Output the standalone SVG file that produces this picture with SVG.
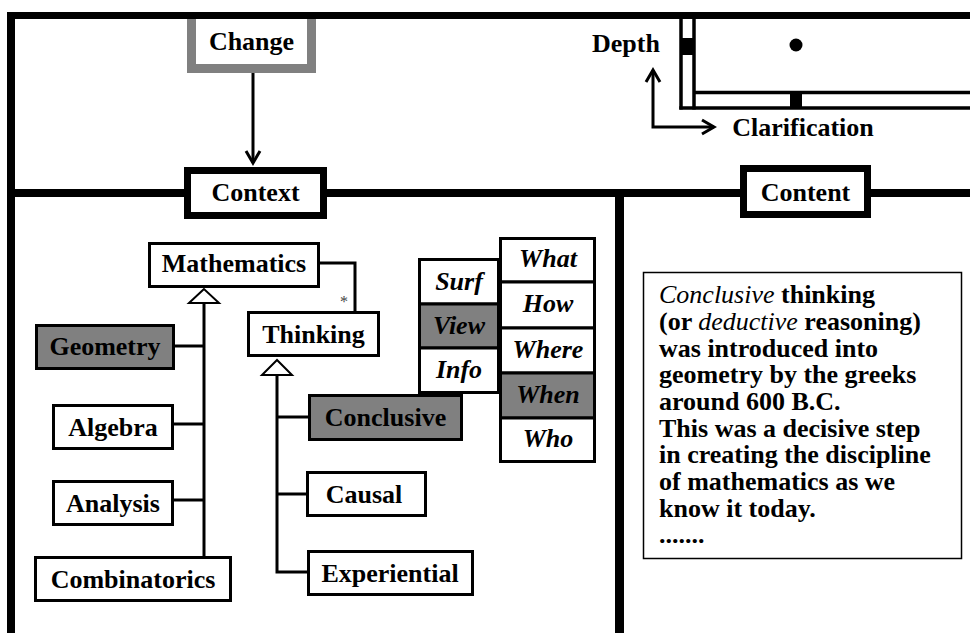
<svg xmlns="http://www.w3.org/2000/svg" width="970" height="633" viewBox="0 0 970 633">
  <defs>
    <style>
      text { font-family: "Liberation Serif", "Times New Roman", Times, "DejaVu Serif", serif; }
      .lbl { font-size: 26px; font-weight: bold; fill: #000; text-anchor: middle; }
      .it { font-style: italic; }
      .box { fill: #fff; stroke: #000; stroke-width: 3; }
      .gbox { fill: #808080; stroke: #000; stroke-width: 3; }
      .frame { stroke: #000; fill: none; }
      .wire { stroke: #000; stroke-width: 3; fill: none; }
      .tri { fill: #fff; stroke: #000; stroke-width: 2; }
      .note { font-size: 26px; font-weight: bold; fill: #000; }
      .em { font-style: italic; font-weight: normal; }
    </style>
  </defs>
  <rect width="970" height="633" fill="#fff"/>

  <!-- Change node: grey frame hanging from the top rule -->
  <g id="change">
    <path d="M191.5,14 V68.5 H311.5 V14" fill="#fff" stroke="#808080" stroke-width="9"/>
    <text class="lbl" x="251.5" y="50" font-family="Liberation Serif, serif">Change</text>
  </g>

  <!-- Frame rules -->
  <g id="frame" class="frame">
    <line x1="7" y1="15.5" x2="970" y2="15.5" stroke-width="7"/>
    <line x1="11" y1="12" x2="11" y2="633" stroke-width="8"/>
    <line x1="7" y1="193" x2="970" y2="193" stroke-width="8"/>
    <line x1="619.5" y1="193" x2="619.5" y2="633" stroke-width="9"/>
  </g>

  <!-- Depth / clarification scroll frame -->
  <g id="scroller">
    <line x1="681" y1="19" x2="681" y2="109.5" stroke="#000" stroke-width="3.5"/>
    <line x1="694" y1="19" x2="694" y2="109.5" stroke="#000" stroke-width="3.5"/>
    <rect x="681" y="38" width="13" height="17" fill="#000"/>
    <line x1="694" y1="92.5" x2="970" y2="92.5" stroke="#000" stroke-width="3.5"/>
    <line x1="679.3" y1="108" x2="970" y2="108" stroke="#000" stroke-width="3.5"/>
    <rect x="790" y="92.5" width="12" height="15.5" fill="#000"/>
    <circle cx="796" cy="45" r="6.5" fill="#000"/>
  </g>
  <g id="depth">
    <text class="lbl" x="626" y="52">Depth</text>
  </g>
  <g id="clarification">
    <text class="lbl" x="803" y="136">Clarification</text>
  </g>

  <!-- Context and Content headers -->
  <g id="context">
    <rect x="187.5" y="170.5" width="136" height="45" fill="#fff" stroke="#000" stroke-width="7"/>
    <text class="lbl" x="255.5" y="201">Context</text>
  </g>
  <g id="content">
    <rect x="743.5" y="168.5" width="124" height="46" fill="#fff" stroke="#000" stroke-width="7"/>
    <text class="lbl" x="805.5" y="201">Content</text>
  </g>

  <!-- Connectors -->
  <g id="connectors">
    <!-- Change to Context -->
    <line class="wire" x1="253" y1="73" x2="253" y2="163"/>
    <polyline class="wire" points="246,151 253,163 260,151"/>
    <!-- Depth / Clarification axes -->
    <polyline class="wire" points="653,70 653,127 714,127"/>
    <polyline class="wire" points="646,82 653,70 660,82"/>
    <polyline class="wire" points="702,120 714,127 702,134"/>
    <!-- Mathematics association to Thinking -->
    <polyline class="wire" points="320,263 355,263 355,311" stroke-width="2"/>
    <text x="344" y="307" font-size="16" fill="#444" text-anchor="middle">*</text>
    <!-- Mathematics generalisation tree -->
    <line class="wire" x1="204" y1="303" x2="204" y2="556" stroke-width="2.5"/>
    <polygon class="tri" points="204,289 189,303 219,303"/>
    <line class="wire" x1="175" y1="346" x2="204" y2="346" stroke-width="2.5"/>
    <line class="wire" x1="174" y1="424" x2="204" y2="424" stroke-width="2.5"/>
    <line class="wire" x1="174" y1="500" x2="204" y2="500" stroke-width="2.5"/>
    <!-- Thinking generalisation tree -->
    <polyline class="wire" points="277,375 277,572 307,572" stroke-width="2.5"/>
    <polygon class="tri" points="277,360 262,375 292,375"/>
    <line class="wire" x1="277" y1="417" x2="308" y2="417" stroke-width="2.5"/>
    <line class="wire" x1="277" y1="494" x2="306" y2="494" stroke-width="2.5"/>
  </g>

  <!-- Mathematics hierarchy -->
  <g id="mathematics">
    <rect class="box" x="149.5" y="243.5" width="169" height="43"/>
    <text class="lbl" x="234" y="272">Mathematics</text>
  </g>
  <g id="geometry">
    <rect class="gbox" x="36.5" y="325.5" width="137" height="43"/>
    <text class="lbl" x="105" y="355">Geometry</text>
  </g>
  <g id="algebra">
    <rect class="box" x="53.5" y="405.5" width="119" height="43"/>
    <text class="lbl" x="113" y="436">Algebra</text>
  </g>
  <g id="analysis">
    <rect class="box" x="53.5" y="481.5" width="119" height="43"/>
    <text class="lbl" x="113" y="512">Analysis</text>
  </g>
  <g id="combinatorics">
    <rect class="box" x="35.5" y="557.5" width="195" height="43"/>
    <text class="lbl" x="133" y="588">Combinatorics</text>
  </g>

  <!-- Thinking hierarchy -->
  <g id="thinking">
    <rect class="box" x="248.5" y="312.5" width="130" height="43"/>
    <text class="lbl" x="313.5" y="343">Thinking</text>
  </g>
  <g id="conclusive">
    <rect class="gbox" x="309.5" y="395.5" width="152" height="44"/>
    <text class="lbl" x="385.5" y="426">Conclusive</text>
  </g>
  <g id="causal">
    <rect class="box" x="307.5" y="472.5" width="118" height="43"/>
    <text class="lbl" x="364" y="503">Causal</text>
  </g>
  <g id="experiential">
    <rect class="box" x="308.5" y="551.5" width="164" height="43"/>
    <text class="lbl" x="390" y="582">Experiential</text>
  </g>

  <!-- Surf / View / Info column -->
  <g id="surf">
    <rect class="box" x="419.5" y="259.5" width="79" height="44.5"/>
    <text class="lbl it" x="459" y="290">Surf</text>
  </g>
  <g id="view">
    <rect class="gbox" x="419.5" y="304" width="79" height="44"/>
    <text class="lbl it" x="459" y="334">View</text>
  </g>
  <g id="info">
    <rect class="box" x="419.5" y="348" width="79" height="44.5"/>
    <text class="lbl it" x="459" y="378">Info</text>
  </g>

  <!-- What / How / Where / When / Who column -->
  <g id="what">
    <rect class="box" x="500.5" y="238.5" width="94" height="43.5"/>
    <text class="lbl it" x="548" y="267">What</text>
  </g>
  <g id="how">
    <rect class="box" x="500.5" y="282" width="94" height="46"/>
    <text class="lbl it" x="548" y="312">How</text>
  </g>
  <g id="where">
    <rect class="box" x="500.5" y="328" width="94" height="45"/>
    <text class="lbl it" x="548" y="358">Where</text>
  </g>
  <g id="when">
    <rect class="gbox" x="500.5" y="373" width="94" height="45"/>
    <text class="lbl it" x="548" y="403">When</text>
  </g>
  <g id="who">
    <rect class="box" x="500.5" y="418" width="94" height="43.5"/>
    <text class="lbl it" x="548" y="447">Who</text>
  </g>

  <!-- Content note -->
  <g id="note">
    <rect x="643.5" y="272.5" width="318" height="286" fill="#fff" stroke="#000" stroke-width="1.5"/>
    <text class="note" x="659" y="303"><tspan class="em">Conclusive</tspan> thinking</text>
    <text class="note" x="659" y="330">(or <tspan class="em">deductive</tspan> reasoning)</text>
    <text class="note" x="659" y="357">was introduced into</text>
    <text class="note" x="659" y="383">geometry by the greeks</text>
    <text class="note" x="659" y="410">around 600 B.C.</text>
    <text class="note" x="659" y="437">This was a decisive step</text>
    <text class="note" x="659" y="463">in creating the discipline</text>
    <text class="note" x="659" y="490">of mathematics as we</text>
    <text class="note" x="659" y="517">know it today.</text>
    <text class="note" x="659" y="543">.......</text>
  </g>
</svg>
